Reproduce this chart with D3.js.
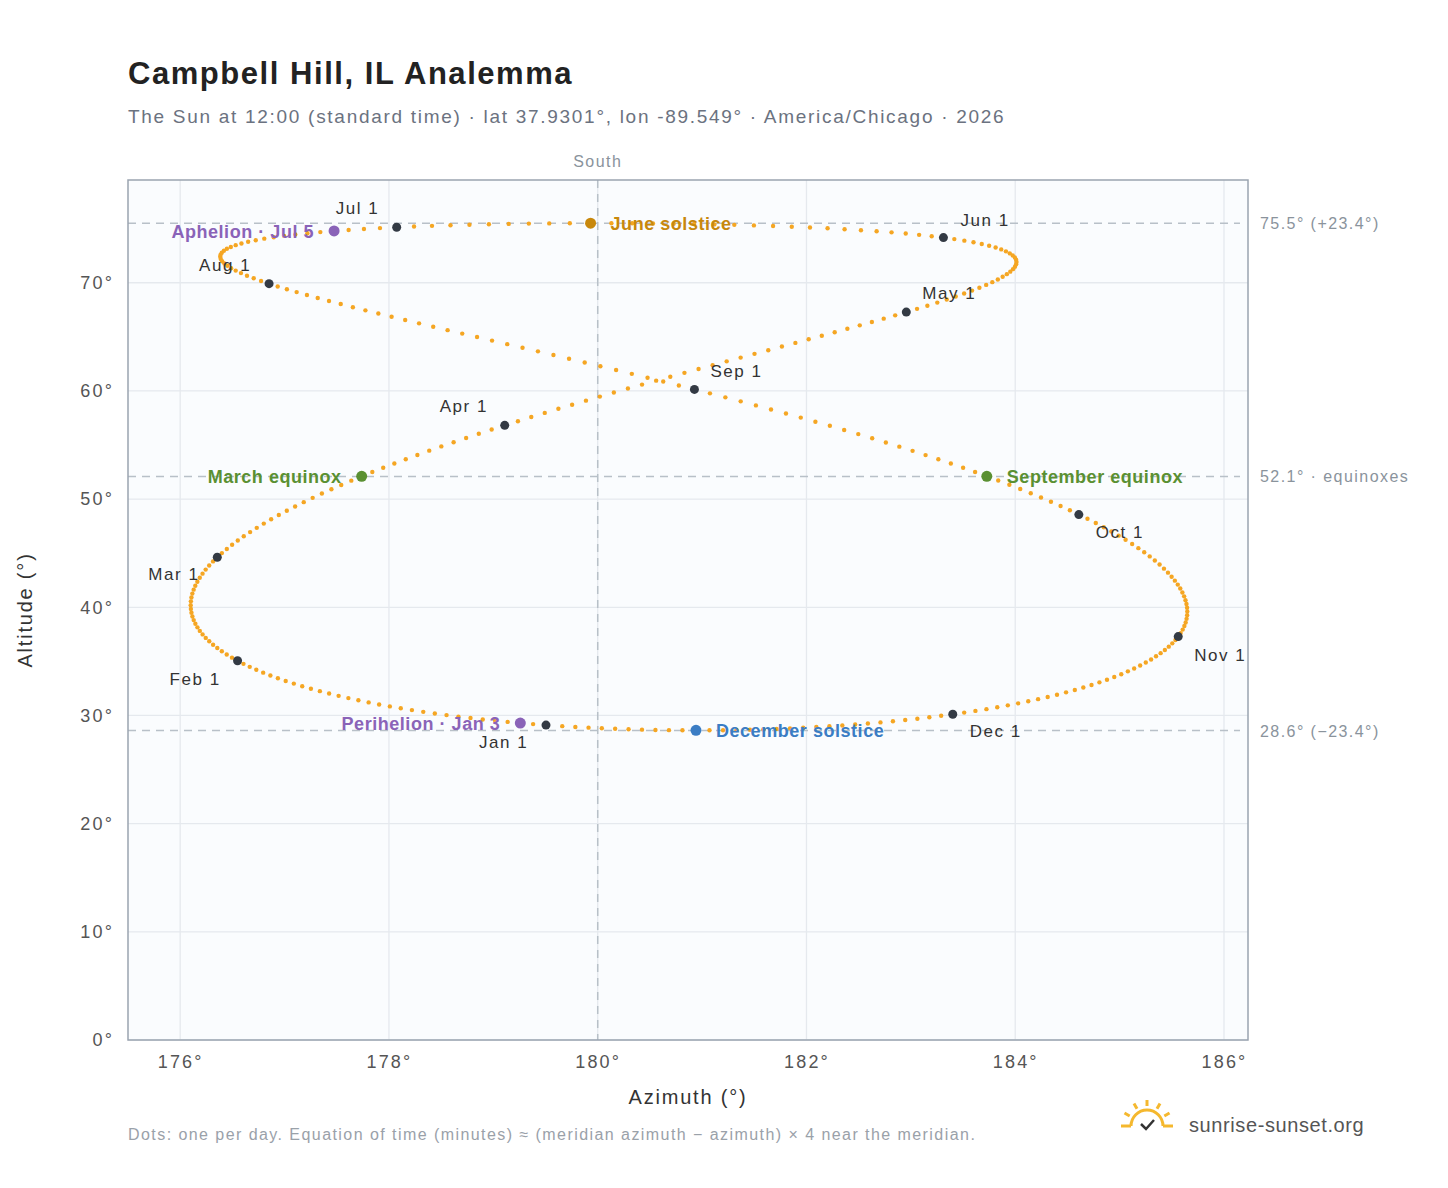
<!DOCTYPE html>
<html><head><meta charset="utf-8">
<script src="https://cdn.jsdelivr.net/npm/d3@7"></script>
<style>body{margin:0;background:#fff;font-family:"Liberation Sans",Arial,sans-serif} svg text{letter-spacing:0.09em}</style>
</head><body><svg id="c" width="1448" height="1188"></svg>
<script>
// Site / chart parameters
const lat = 37.9301, lon = -89.549, year = 2026, tzOffsetHours = -6;
const xTicks = [176,178,180,182,184,186];
const yTicks = [0,10,20,30,40,50,60,70];
const refLines = [
  {alt:75.5, label:"75.5° (+23.4°)"},
  {alt:52.1, label:"52.1° · equinoxes"},
  {alt:28.6, label:"28.6° (−23.4°)"}
];
const monthLabels = [
  {m:0,name:"Jan 1",dx:-67,dy:23},{m:1,name:"Feb 1",dx:-68,dy:24},{m:2,name:"Mar 1",dx:-69,dy:23},
  {m:3,name:"Apr 1",dx:-65,dy:-13},{m:4,name:"May 1",dx:16,dy:-13},{m:5,name:"Jun 1",dx:17,dy:-12},
  {m:6,name:"Jul 1",dx:-61,dy:-13},{m:7,name:"Aug 1",dx:-70,dy:-13},{m:8,name:"Sep 1",dx:16,dy:-12},
  {m:9,name:"Oct 1",dx:17,dy:23},{m:10,name:"Nov 1",dx:16,dy:24},{m:11,name:"Dec 1",dx:17,dy:23}
];
const events = [
  {date:[2,20],name:"March equinox",color:"#5a9032",side:"left"},
  {date:[5,21],name:"June solstice",color:"#c8880c",side:"right"},
  {date:[8,22],name:"September equinox",color:"#5a9032",side:"right"},
  {date:[11,21],name:"December solstice",color:"#3b7dc4",side:"right"},
  {date:[0,3],name:"Perihelion · Jan 3",color:"#8a63b8",side:"left"},
  {date:[6,5],name:"Aphelion · Jul 5",color:"#8a63b8",side:"left"}
];

// Sun position (NOAA algorithm) at 12:00 standard time
function sunPos(date){
  const jd = date.getTime()/86400000 + 2440587.5, T=(jd-2451545)/36525, r=Math.PI/180;
  const L0=(280.46646+T*(36000.76983+0.0003032*T))%360;
  const M=357.52911+T*(35999.05029-0.0001537*T), e=0.016708634-T*(0.000042037+0.0000001267*T);
  const C=Math.sin(M*r)*(1.914602-T*(0.004817+0.000014*T))+Math.sin(2*M*r)*(0.019993-0.000101*T)+Math.sin(3*M*r)*0.000289;
  const om=125.04-1934.136*T, lam=L0+C-0.00569-0.00478*Math.sin(om*r);
  const eps0=23+(26+(21.448-T*(46.815+T*(0.00059-T*0.001813)))/60)/60, eps=eps0+0.00256*Math.cos(om*r);
  const dec=Math.asin(Math.sin(eps*r)*Math.sin(lam*r));
  const y=Math.tan(eps*r/2)**2;
  const eot=4/r*(y*Math.sin(2*L0*r)-2*e*Math.sin(M*r)+4*e*y*Math.sin(M*r)*Math.cos(2*L0*r)-0.5*y*y*Math.sin(4*L0*r)-1.25*e*e*Math.sin(2*M*r));
  const utcMin=date.getUTCHours()*60+date.getUTCMinutes();
  const tst=utcMin+eot+4*lon;
  const H=(tst/4-180)*r, p=lat*r;
  const cz=Math.sin(p)*Math.sin(dec)+Math.cos(p)*Math.cos(dec)*Math.cos(H);
  const alt=Math.asin(cz)/r;
  let az=Math.atan2(Math.sin(H),Math.cos(H)*Math.sin(p)-Math.tan(dec)*Math.cos(p))/r+180;
  return {az,alt};
}
const at=(m,d)=>sunPos(new Date(Date.UTC(year,m,d,12-tzOffsetHours,0)));
const days=[];
for(let t=Date.UTC(year,0,1);t<Date.UTC(year+1,0,1);t+=86400000){const dd=new Date(t);days.push(at(dd.getUTCMonth(),dd.getUTCDate()));}

const svg=d3.select("#c");
const L=128,R=1248,T=180,B=1040;
const x=d3.scaleLinear().domain([175.5,186.23]).range([L,R]);
const y=d3.scaleLinear().domain([0,79.5]).range([B,T]);
svg.append("text").attr("x",128).attr("y",84).attr("font-size",31).attr("font-weight","bold").attr("fill","#222").style("letter-spacing","0.05em").text("Campbell Hill, IL Analemma");
svg.append("text").attr("x",128).attr("y",123).attr("font-size",19).attr("fill","#6b7280").text("The Sun at 12:00 (standard time) · lat 37.9301°, lon -89.549° · America/Chicago · 2026");
svg.append("rect").attr("x",L).attr("y",T).attr("width",R-L).attr("height",B-T).attr("fill","#fafcfe");
const g=svg.append("g");
xTicks.forEach(v=>g.append("line").attr("x1",x(v)).attr("x2",x(v)).attr("y1",T).attr("y2",B).attr("stroke","#e5e9ee").attr("stroke-width",1.3));
yTicks.forEach(v=>g.append("line").attr("x1",L).attr("x2",R).attr("y1",y(v)).attr("y2",y(v)).attr("stroke","#e5e9ee").attr("stroke-width",1.3));
g.append("g").attr("transform",`translate(0,${B})`).call(d3.axisBottom(x).tickValues(xTicks).tickFormat(d=>d+"°").tickSize(0).tickPadding(15))
 .call(a=>{a.select(".domain").remove();a.selectAll("text").attr("font-size",18).attr("fill","#555").attr("font-family","Liberation Sans, Arial").style("letter-spacing","0.12em")});
g.append("g").attr("transform",`translate(${L},0)`).call(d3.axisLeft(y).tickValues(yTicks).tickFormat(d=>d+"°").tickSize(0).tickPadding(14))
 .call(a=>{a.select(".domain").remove();a.selectAll("text").attr("font-size",18).attr("fill","#555").attr("font-family","Liberation Sans, Arial").style("letter-spacing","0.12em")});
refLines.forEach(rl=>{
  g.append("line").attr("x1",L).attr("x2",1240).attr("y1",y(rl.alt)).attr("y2",y(rl.alt)).attr("stroke","#b8c0c8").attr("stroke-width",1.5).attr("stroke-dasharray","8,6");
  g.append("text").attr("x",1260).attr("y",y(rl.alt)+6).attr("font-size",16).attr("fill","#8a939c").text(rl.label);
});
g.append("line").attr("x1",x(180)).attr("x2",x(180)).attr("y1",T).attr("y2",B).attr("stroke","#b8c0c8").attr("stroke-width",1.5).attr("stroke-dasharray","8,6");
svg.append("text").attr("x",x(180)).attr("y",167).attr("text-anchor","middle").attr("font-size",16).attr("fill","#8a939c").text("South");
svg.append("rect").attr("x",L).attr("y",T).attr("width",R-L).attr("height",B-T).attr("fill","none").attr("stroke","#9aa4b0").attr("stroke-width",1.5);
g.selectAll("circle.d").data(days).join("circle").attr("cx",d=>x(d.az)).attr("cy",d=>y(d.alt)).attr("r",2.2).attr("fill","#f5a623");
monthLabels.forEach(ml=>{const p=at(ml.m,1);
  g.append("circle").attr("cx",x(p.az)).attr("cy",y(p.alt)).attr("r",4.5).attr("fill","#333a44");
  g.append("text").attr("x",x(p.az)+ml.dx).attr("y",y(p.alt)+ml.dy).attr("font-size",17).attr("fill","#333").text(ml.name);});
events.forEach(ev=>{const p=at(ev.date[0],ev.date[1]);
  g.append("circle").attr("cx",x(p.az)).attr("cy",y(p.alt)).attr("r",5.5).attr("fill",ev.color);
  g.append("text").attr("x",x(p.az)+(ev.side=="left"?-20:20)).attr("y",y(p.alt)+7).attr("text-anchor",ev.side=="left"?"end":"start")
   .attr("font-size",18).attr("font-weight","bold").attr("fill",ev.color).style("letter-spacing","0.03em").text(ev.name);});
svg.append("text").attr("x",(L+R)/2).attr("y",1104).attr("text-anchor","middle").attr("font-size",20).attr("fill","#333").text("Azimuth (°)");
svg.append("text").attr("transform",`translate(32,${(T+B)/2}) rotate(-90)`).attr("text-anchor","middle").attr("font-size",20).attr("fill","#333").text("Altitude (°)");
svg.append("text").attr("x",128).attr("y",1140).attr("font-size",16).attr("fill","#9aa1a9").text("Dots: one per day. Equation of time (minutes) ≈ (meridian azimuth − azimuth) × 4 near the meridian.");
// logo
const lg=svg.append("g").attr("transform","translate(1147,1126)");
lg.append("path").attr("d","M-16,0 A16,16 0 0 1 16,0").attr("fill","none").attr("stroke","#f5b82e").attr("stroke-width",3);
[-150,-120,-90,-60,-30].forEach(a=>{const r=Math.PI/180*a;lg.append("line").attr("x1",20*Math.cos(r)).attr("y1",20*Math.sin(r)).attr("x2",26*Math.cos(r)).attr("y2",26*Math.sin(r)).attr("stroke","#f5b82e").attr("stroke-width",3);});
lg.append("line").attr("x1",-26).attr("x2",-16).attr("y1",0).attr("y2",0).attr("stroke","#f5b82e").attr("stroke-width",3);
lg.append("line").attr("x1",16).attr("x2",26).attr("y1",0).attr("y2",0).attr("stroke","#f5b82e").attr("stroke-width",3);
lg.append("path").attr("d","M-6,-2 L-1,3 L7,-6").attr("fill","none").attr("stroke","#333").attr("stroke-width",2.5);
svg.append("text").attr("x",1189).attr("y",1132).attr("font-size",20).attr("fill","#555").style("letter-spacing","0.03em").text("sunrise-sunset.org");
</script></body></html>
